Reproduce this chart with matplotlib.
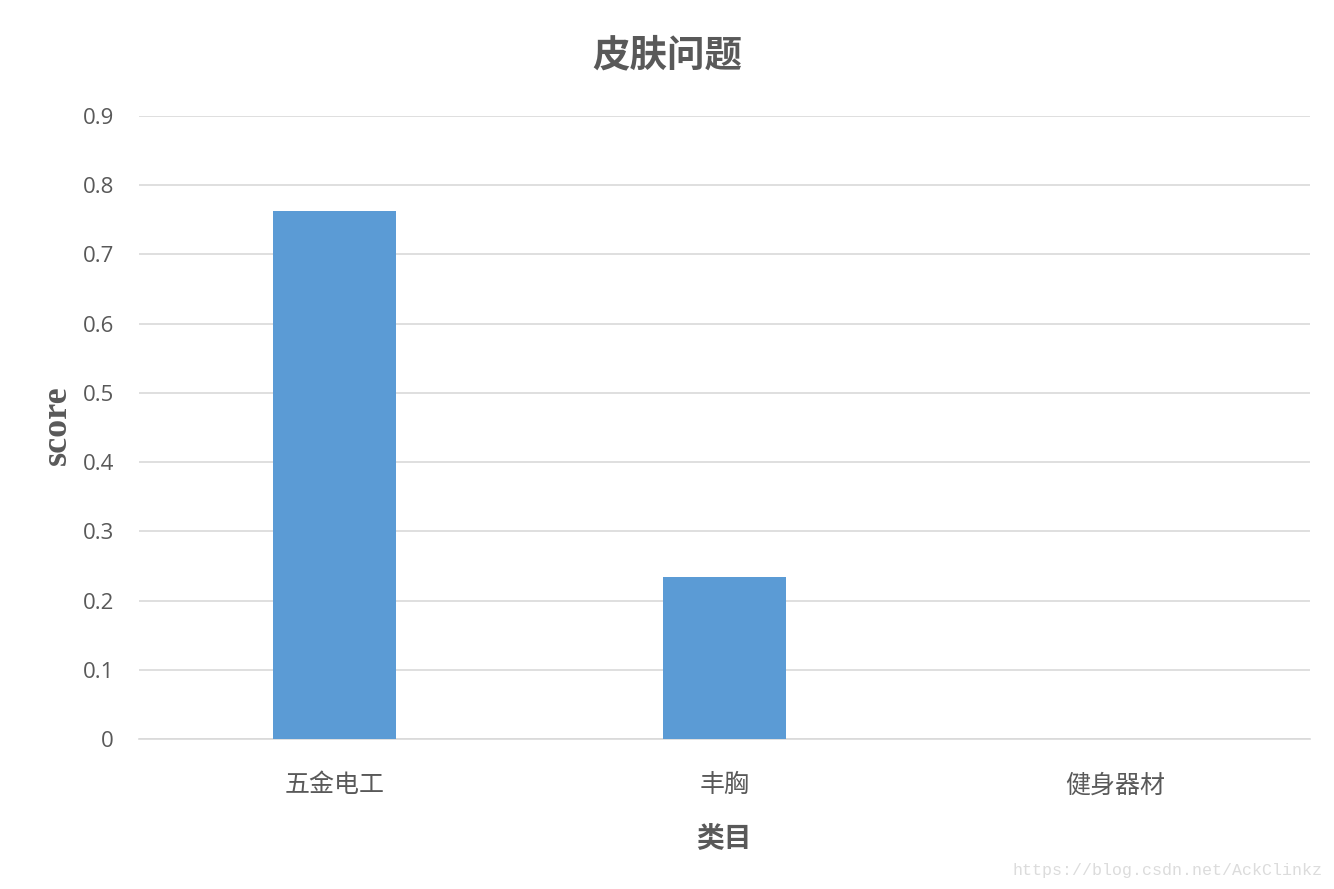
import matplotlib
matplotlib.use("Agg")
import matplotlib.pyplot as plt

categories = ["五金电工", "丰胸", "健身器材"]
scores = [0.763, 0.234, 0.0]
yticks = [0, 0.1, 0.2, 0.3, 0.4, 0.5, 0.6, 0.7, 0.8, 0.9]
ytick_labels = ["0", "0.1", "0.2", "0.3", "0.4", "0.5", "0.6", "0.7", "0.8", "0.9"]

plt.rcParams['font.family'] = ['Noto Sans CJK SC', 'DejaVu Sans']
W, H = 1334, 889
fig = plt.figure(figsize=(W / 100, H / 100), dpi=100)
ax = fig.add_axes([139 / W, 1 - 739 / H, (1310 - 139) / W, (739 - 116) / H])

x = list(range(len(categories)))
ax.bar(x, scores, width=0.315, color="#5B9BD5", zorder=3)
ax.set_xlim(-0.5, len(categories) - 0.5)
ax.set_ylim(0, 0.9)
ax.set_yticks(yticks)
ax.set_yticklabels(ytick_labels, family="Open Sans")
ax.set_xticks(x)
ax.set_xticklabels(categories)
ax.grid(axis="y", color="#d9d9d9", linewidth=1.2, zorder=0)
for s in ["top", "right", "left"]:
    ax.spines[s].set_visible(False)
ax.spines["bottom"].set_color("#d9d9d9")
ax.spines["bottom"].set_linewidth(1.2)
ax.tick_params(axis="both", length=0, colors="#595959", labelsize=16)
ax.tick_params(axis="y", pad=18)
ax.tick_params(axis="x", pad=24, labelsize=18)

fig.text(667 / W, 1 - 55 / H, "皮肤问题", ha="center", va="center",
         fontsize=27, fontweight="bold", color="#595959")
fig.text(57 / W, 1 - 425 / H, "score", ha="center", va="center", rotation=90,
         fontsize=26, fontweight="bold", color="#595959", family="Liberation Serif")
fig.text(724 / W, 1 - 838 / H, "类目", ha="center", va="center",
         fontsize=20, fontweight="bold", color="#595959")
fig.text(1322 / W, 1 - 870 / H, "https://blog.csdn.net/AckClinkz", ha="right", va="center",
         fontsize=12, color="#dcdcdc", family="Liberation Mono")

fig.savefig("out.png", dpi=100, facecolor="white")
